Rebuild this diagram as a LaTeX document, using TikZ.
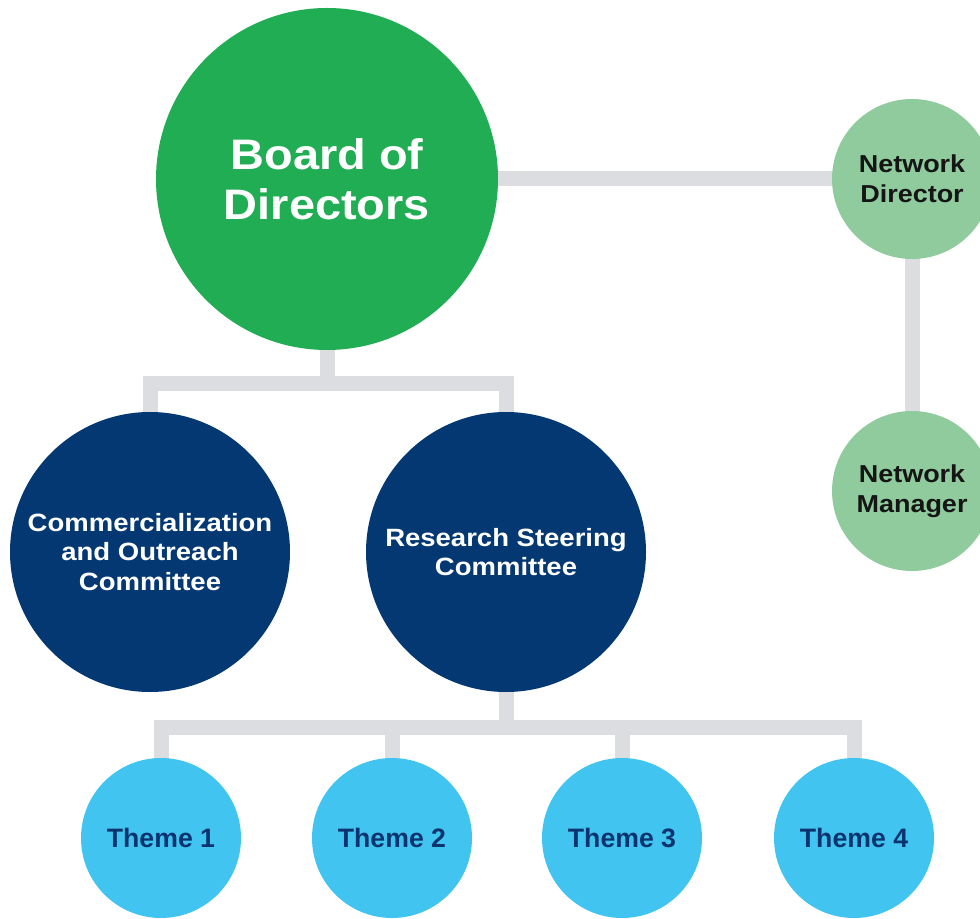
\documentclass[tikz,border=0pt]{standalone}
\usepackage{fontspec}
\setmainfont{Liberation Sans}
\newfontfamily\widefont{Liberation Sans}[FakeStretch=1.1]
\usetikzlibrary{backgrounds}
\definecolor{boardgreen}{HTML}{20AD53}
\definecolor{lightgreen}{HTML}{8FCB9C}
\definecolor{navy}{HTML}{043873}
\definecolor{skyblue}{HTML}{41C5F0}
\definecolor{themetext}{HTML}{0A3470}
\definecolor{conngray}{HTML}{DCDDE0}
\definecolor{darktext}{HTML}{151515}
\tikzset{
  conn/.style={draw=conngray, line width=11.25pt, line join=miter, line cap=butt},
  orgcircle/.style={circle, inner sep=0pt, align=center, draw=none},
  boardnode/.style={orgcircle, fill=boardgreen, text=white, minimum size=256.5pt,
    font=\widefont\bfseries\fontsize{32pt}{37.5pt}\selectfont},
  commnode/.style={orgcircle, fill=navy, text=white, minimum size=210pt,
    font=\widefont\bfseries\fontsize{18.75pt}{22pt}\selectfont},
  netnode/.style={orgcircle, fill=lightgreen, text=darktext, minimum size=120pt,
    font=\widefont\bfseries\fontsize{18.4pt}{22.5pt}\selectfont},
  themenode/.style={orgcircle, fill=skyblue, text=themetext, minimum size=120pt,
    font=\bfseries\fontsize{20pt}{24pt}\selectfont},
}
\begin{document}
\begin{tikzpicture}[x=0.75pt, y=-0.75pt]
  \useasboundingbox (0,0) rectangle (980,919);
  \clip (0,0) rectangle (980,919);

  \node[boardnode] (board) at (327,179) {Board of\\Directors};
  \node[netnode] (nd) at (912,179) {Network\\Director};
  \node[netnode] (nm) at (912,491) {Network\\Manager};
  \node[commnode] (comm) at (150,552) {Commercialization\\and Outreach\\Committee};
  \node[commnode] (rsc) at (506,552) {Research Steering\\Committee};
  \node[themenode] (t1) at (161,838) {Theme 1};
  \node[themenode] (t2) at (392,838) {Theme 2};
  \node[themenode] (t3) at (622,838) {Theme 3};
  \node[themenode] (t4) at (854,838) {Theme 4};

  \coordinate (bar1) at (327,383);
  \coordinate (bar2) at (506,727);

  \begin{scope}[on background layer]
    \draw[conn] (board.center) -- (nd.center);
    \draw[conn] (nd.center) -- (nm.center);
    \draw[conn] (board.center) -- (bar1);
    \draw[conn] (comm.center) |- (bar1) -| (rsc.center);
    \draw[conn] (rsc.center) -- (bar2);
    \draw[conn] (t1.center) |- (bar2) -| (t4.center);
    \draw[conn] (t2.center) -- (t2.center |- bar2);
    \draw[conn] (t3.center) -- (t3.center |- bar2);
  \end{scope}
\end{tikzpicture}
\end{document}
